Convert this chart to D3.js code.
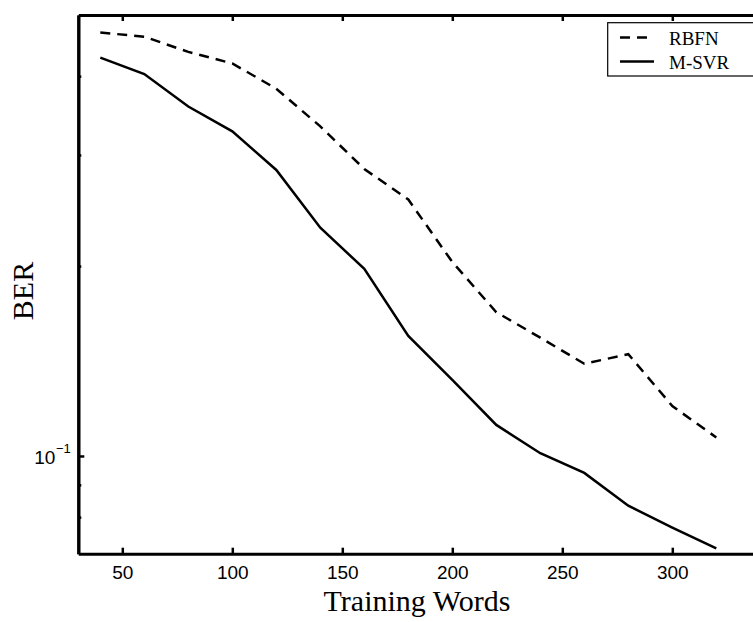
<!DOCTYPE html>
<html>
<head>
<meta charset="utf-8">
<script src="https://cdn.jsdelivr.net/npm/d3@7"></script>
<style>
  body { margin: 0; background: #fff; }
  svg { display: block; }
</style>
</head>
<body>
<div id="chart"></div>
<script>
// data
var trainingWords = [40, 60, 80, 100, 120, 140, 160, 180, 200, 220, 240, 260, 280, 300, 320];
var rbfnBER = [0.469, 0.462, 0.437, 0.419, 0.382, 0.333, 0.285, 0.255, 0.203, 0.169, 0.154, 0.140, 0.145, 0.120, 0.107];
var msvrBER = [0.428, 0.403, 0.358, 0.327, 0.284, 0.230, 0.198, 0.155, 0.132, 0.112, 0.101, 0.094, 0.0834, 0.077, 0.0714];
var seriesNames = ["RBFN", "M-SVR"];
var xTicks = [50, 100, 150, 200, 250, 300];
var yMajorTicks = [0.1];
var yMinorTicks = [0.08, 0.09, 0.2, 0.3, 0.4];

var svgWidth = 753;
var svgHeight = 622;

var margin = {
    top: 15,
    left: 78.3,
    bottom: 68.3
};
// right side of the axes box runs past the picture edge
var chartWidth = 682;
var chartHeight = svgHeight - margin.top - margin.bottom;

var svg = d3.select("#chart")
    .append("svg")
    .attr("width", svgWidth)
    .attr("height", svgHeight);

var chartGroup = svg.append("g")
    .attr("transform", `translate(${margin.left},${margin.top})`);

var xLinearScale = d3.scaleLinear()
    .domain([30, 340])
    .range([0, chartWidth]);

var yLogScale = d3.scaleLog()
    .domain([0.07, 0.5])
    .range([chartHeight, 0]);

var tickFont = "'Liberation Sans', Arial, sans-serif";
var serifFont = "'Liberation Serif', 'Times New Roman', serif";

// bottom axis, ticks inside
var bottomAxis = d3.axisBottom(xLinearScale)
    .tickValues(xTicks)
    .tickSize(-6)
    .tickSizeOuter(0)
    .tickPadding(12);

var xAxis = chartGroup.append("g")
    .attr("transform", `translate(0, ${chartHeight})`)
    .call(bottomAxis);
xAxis.selectAll("text")
    .style("font-family", tickFont)
    .style("font-size", "19px")
    .attr("fill", "#000");

// top axis, ticks only
var topAxis = d3.axisTop(xLinearScale)
    .tickValues(xTicks)
    .tickSize(-6)
    .tickSizeOuter(0)
    .tickFormat("");
chartGroup.append("g").call(topAxis);

// left axis (log)
var leftAxis = d3.axisLeft(yLogScale)
    .tickValues(yMajorTicks)
    .tickSize(-6)
    .tickSizeOuter(0)
    .tickFormat("");
chartGroup.append("g").call(leftAxis);

var leftMinor = d3.axisLeft(yLogScale)
    .tickValues(yMinorTicks)
    .tickSize(-3)
    .tickSizeOuter(0)
    .tickFormat("");
chartGroup.append("g").call(leftMinor);

chartGroup.selectAll(".domain, .tick line")
    .attr("stroke", "#000")
    .attr("stroke-width", 2.5);
chartGroup.selectAll(".domain").attr("stroke-width", 3);

// 10^-1 label
yMajorTicks.forEach(function(v){
    var lbl = chartGroup.append("text")
        .attr("x", -23)
        .attr("y", yLogScale(v) + 8.5)
        .attr("text-anchor", "end")
        .style("font-family", tickFont)
        .style("font-size", "19px");
    lbl.append("tspan").text("10");
    lbl.append("tspan")
        .attr("x", -7.5)
        .attr("dy", -11)
        .attr("text-anchor", "end")
        .style("font-size", "13px")
        .text("\u22121");
});

// lines
var line = d3.line()
    .x((d, i) => xLinearScale(trainingWords[i]))
    .y(d => yLogScale(d));

chartGroup.append("path")
    .datum(rbfnBER)
    .attr("d", line)
    .attr("fill", "none")
    .attr("stroke", "#000")
    .attr("stroke-width", 2.5)
    .attr("stroke-dasharray", "10,7");

chartGroup.append("path")
    .datum(msvrBER)
    .attr("d", line)
    .attr("fill", "none")
    .attr("stroke", "#000")
    .attr("stroke-width", 2.5);

// axis titles
svg.append("text")
    .attr("x", 417)
    .attr("y", 611)
    .attr("text-anchor", "middle")
    .style("font-family", serifFont)
    .style("font-size", "30px")
    .text("Training Words");

svg.append("text")
    .attr("transform", "rotate(-90)")
    .attr("x", -291)
    .attr("y", 33)
    .attr("text-anchor", "middle")
    .style("font-family", serifFont)
    .style("font-size", "30px")
    .text("BER");

// legend
var legend = svg.append("g");
legend.append("rect")
    .attr("x", 607.7)
    .attr("y", 22.7)
    .attr("width", 200)
    .attr("height", 53.3)
    .attr("fill", "#fff")
    .attr("stroke", "#000")
    .attr("stroke-width", 1.2);

var legendRows = [{ name: seriesNames[0], dash: "10,7", y: 37.5 },
                  { name: seriesNames[1], dash: null, y: 61.5 }];
legendRows.forEach(function(r){
    legend.append("line")
        .attr("x1", 620).attr("x2", 654)
        .attr("y1", r.y).attr("y2", r.y)
        .attr("stroke", "#000")
        .attr("stroke-width", 2.5)
        .attr("stroke-dasharray", r.dash);
    legend.append("text")
        .attr("x", 669)
        .attr("y", r.y + 7)
        .style("font-family", serifFont)
        .style("font-size", "19px")
        .text(r.name);
});
</script>
</body>
</html>
